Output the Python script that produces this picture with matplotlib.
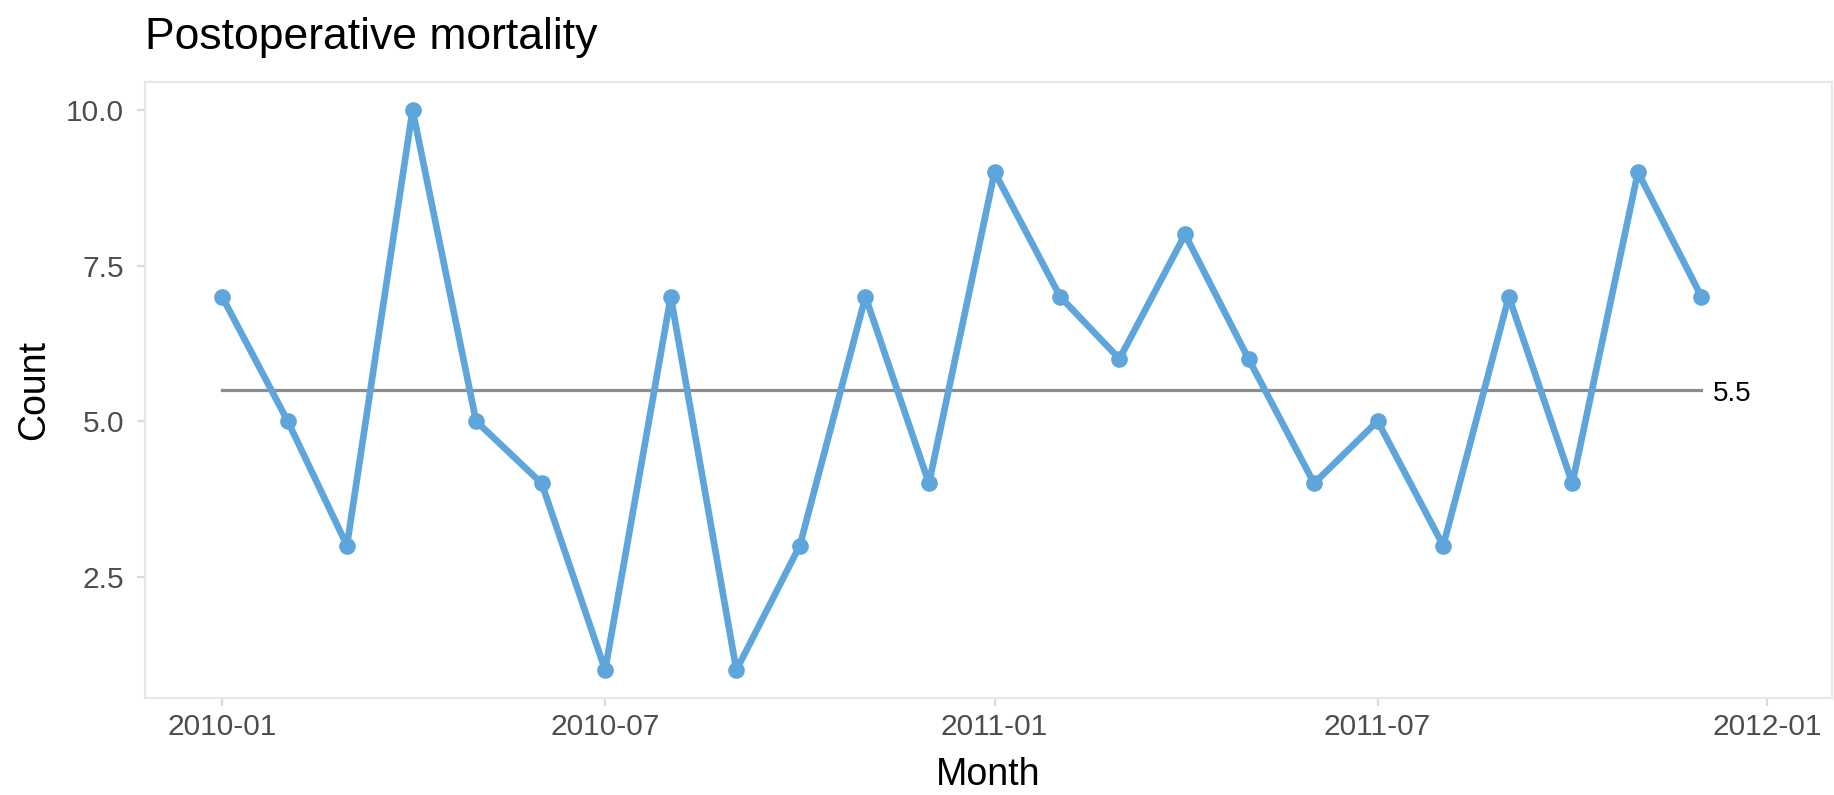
import numpy as np
import pandas as pd
import matplotlib
matplotlib.use('Agg')
import matplotlib.pyplot as plt
import matplotlib.dates as mdates

# monthly counts, 2010-01 .. 2011-12
months = pd.date_range('2010-01-01', periods=24, freq='MS')
counts = [7, 5, 3, 10, 5, 4, 1, 7, 1, 3, 7, 4,
          9, 7, 6, 8, 6, 4, 5, 3, 7, 4, 9, 7]
median_value = 5.5
y_ticks = [2.5, 5.0, 7.5, 10.0]
x_ticks = ['2010-01-01', '2010-07-01', '2011-01-01', '2011-07-01', '2012-01-01']

plt.rcParams['font.family'] = ['Liberation Sans', 'DejaVu Sans']

fig = plt.figure(figsize=(18.34, 7.95), dpi=100)
ax = fig.add_axes([0.0791, 0.122, 0.9198, 0.7749])

line_col = '#5DA5DA'
ax.plot(months, counts, color=line_col, linewidth=4.8, marker='o',
        markersize=12, markeredgewidth=0, solid_joinstyle='round', zorder=3)
ax.plot([months[0], months[-1]], [median_value, median_value],
        color='#8C8C8C', linewidth=2.3, zorder=2)
ax.annotate('{:g}'.format(median_value), xy=(months[-1], median_value),
            xytext=(8, -3), textcoords='offset points',
            ha='left', va='center', fontsize=20, color='black')

ax.set_ylim(0.55, 10.45)
ax.set_xlim(pd.Timestamp('2010-01-01') - pd.Timedelta(days=36.4),
            pd.Timestamp('2012-01-01') + pd.Timedelta(days=30.7))
ax.set_yticks(y_ticks)
ax.set_yticklabels(['{:.1f}'.format(v) for v in y_ticks])
ax.set_xticks(pd.to_datetime(x_ticks))
ax.xaxis.set_major_formatter(mdates.DateFormatter('%Y-%m'))

for s in ax.spines.values():
    s.set_color('#E8E8E8')
    s.set_linewidth(1.6)
ax.tick_params(axis='both', colors='#DADADA', length=6, width=1.6,
               labelsize=21.5, labelcolor='#4D4D4D')
ax.tick_params(axis='x', pad=5)
ax.tick_params(axis='y', pad=9)

ax.set_xlabel('Month', fontsize=27, labelpad=11)
ax.set_ylabel('Count', fontsize=27, labelpad=10)
ax.set_title('Postoperative mortality', fontsize=32, loc='left', pad=24)

fig.savefig('out.png', dpi=100)
